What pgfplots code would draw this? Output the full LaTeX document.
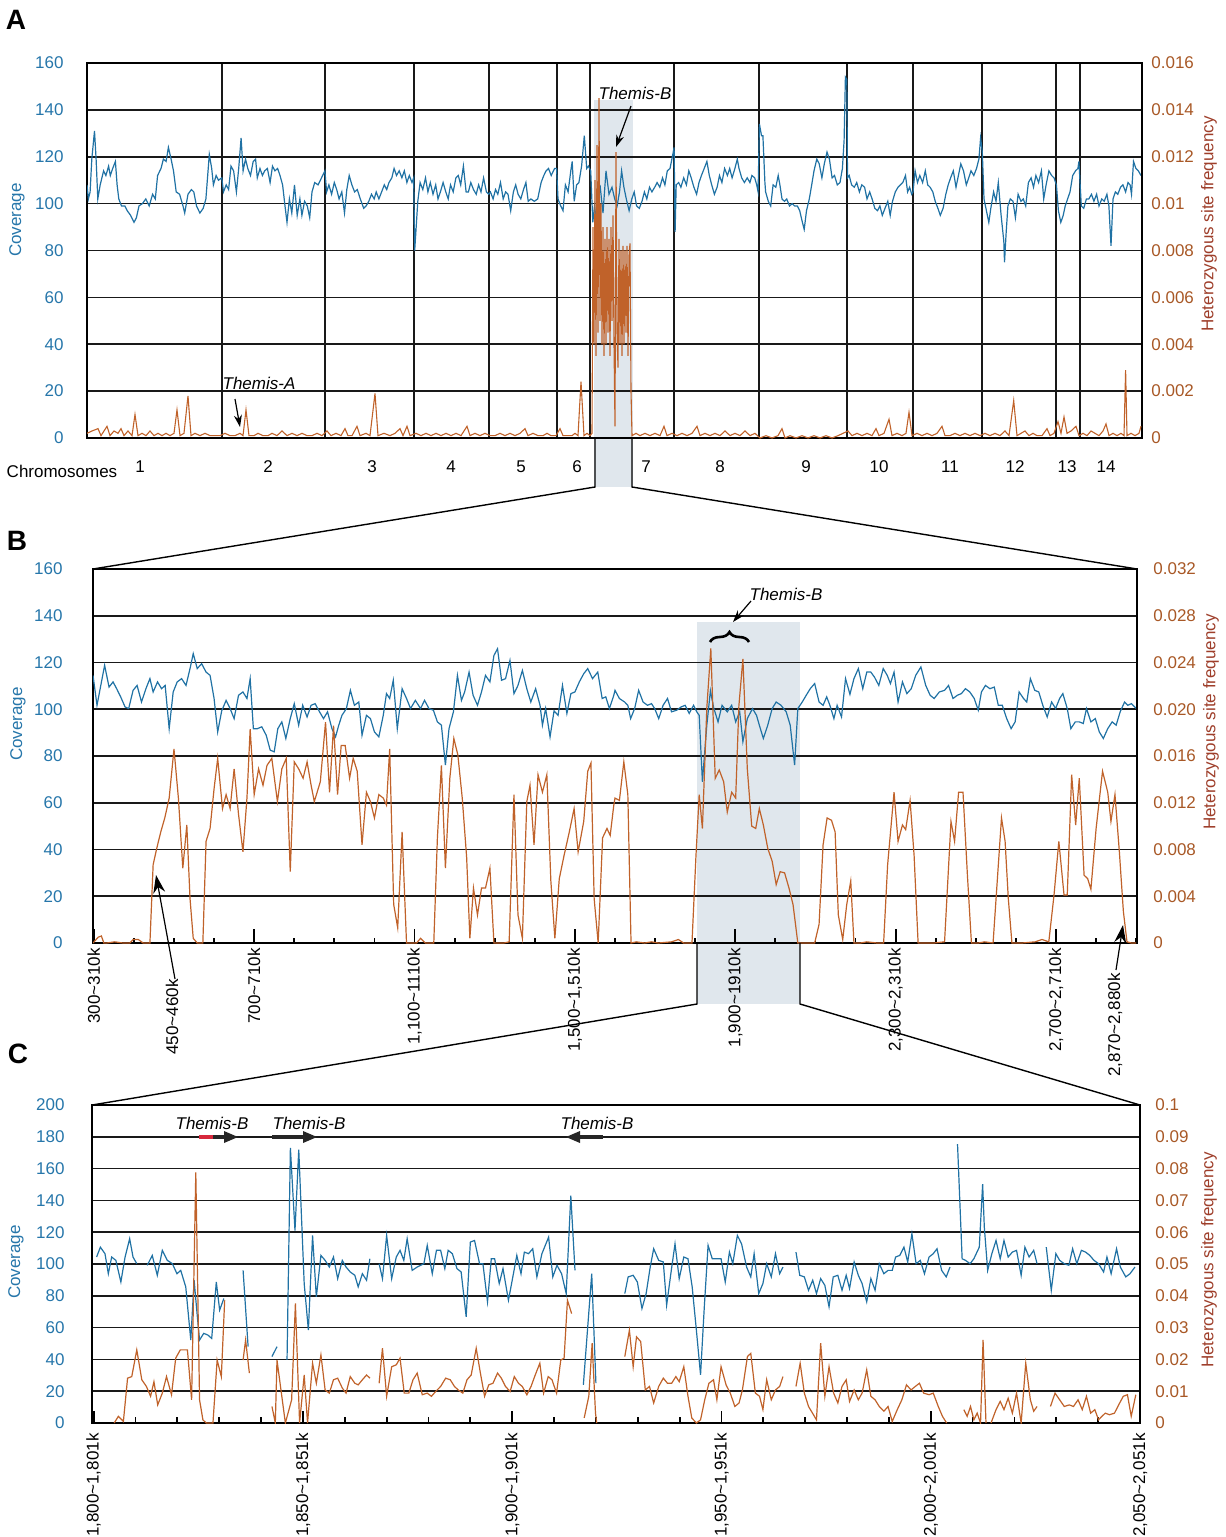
\documentclass[border=0pt]{standalone}
\usepackage{pgfplots}
\pgfplotsset{compat=1.18}
\usepackage{fontspec}
\setmainfont{Liberation Sans}
\usetikzlibrary{arrows.meta,decorations.pathreplacing}
\definecolor{covblue}{RGB}{32,114,164}
\definecolor{hetorg}{RGB}{192,98,42}
\definecolor{labblue}{RGB}{38,118,170}
\definecolor{labbrown}{RGB}{168,88,38}
\definecolor{labred}{RGB}{158,62,42}
\definecolor{hlshade}{RGB}{224,231,237}
\definecolor{genered}{RGB}{215,40,60}
\pgfplotsset{
  base/.style={scale only axis, anchor=north west,
    tick label style={font=\fontsize{8.5}{10}\selectfont},
    /pgf/number format/assume math mode=true,
    unbounded coords=jump, ymin=0},
  cov/.style={base, axis line style={black,line width=0.8pt},
    ymajorgrids, grid style={black!90,line width=0.8pt},
    ytick style={draw=none},
    yticklabel style={text=labblue, anchor=east, inner sep=0pt}},
  het/.style={base, hide x axis, axis y line*=right, axis line style={black,line width=0.8pt},
    ytick style={draw=none}, scaled y ticks=false,
    yticklabel style={text=labbrown, anchor=west, inner sep=0pt}},
}
\begin{document}
\begin{tikzpicture}
\useasboundingbox (0pt,0pt) rectangle (613pt,-768.5pt);
\begin{scope}[x=0.5pt,y=-0.5pt]
\fill[hlshade] (594,100) rectangle (633,487);
\fill[hlshade] (697,622) rectangle (800,1004);
\end{scope}
% ---------------- Panel A ----------------
\begin{axis}[cov, at={(43.5pt,-31.5pt)}, width=527.5pt, height=187.5pt,
  xmin=87, xmax=1142, ymax=160, ytick={0,20,...,160},
  xtick={222,325,414,489,557,590,674,759,847,913,982,1056,1080}, xticklabels={},
  xmajorgrids, xtick style={draw=none}, yticklabel style={xshift=-11.5pt}]
\addplot[covblue, line width=0.6pt] coordinates {
(87,108)(88.4,102)(90.1,105)(91.8,119)(94.5,131)(96.1,119)(97.8,102)(100.2,108)(103.6,114)(105.9,112)(108.6,116)(110.3,112)(112.7,115)(115.4,118)(117.1,108)(118.8,102)(121.5,99)(124.9,99)(127.2,97)(130.6,95)(134,92)(136.4,94)(139,99)(142.4,100)(145.8,102)(149.2,99)(152.6,104)(155.3,102)(157.6,112)(161,115)(163.4,119)(166.1,118)(168.4,124)(171.1,119)(173.5,114)(176.2,105)(179.6,104)(183,99)(184.7,96)(188,104)(191.4,106)(193.8,105)(196.5,99)(199.9,96)(203.2,98)(205.9,102)(209.3,121)(211.7,115)(213.4,108)(216.1,112)(218.5,110)(221.8,111)
(223.5,105)(226.2,108)(228.6,106)(231,116)(233.6,114)(236.4,105)(238.7,115)(241.1,128)(243.1,114)(245.5,119)(247.8,115)(250.5,112)(253.2,118)(255.6,119)(257.3,111)(260,115)(262.4,112)(264.7,114)(267.4,115)(270.1,109)(272.5,116)(274.9,114)(277.6,115)(280,112)(282.6,108)(285,99)(287,92)(289.4,102)(291.8,96)(294.5,108)(297.2,95)(299.9,102)(301.9,95)(304.6,101)(307.3,99)(309.7,94)(312,105)(314.7,109)(318.1,108)(321.5,111)(324.9,114)
(326.6,105)(328.9,108)(331.6,104)(334.3,109)(336.7,106)(339.1,102)(341.8,105)(344.5,96)(346.8,106)(349.2,112)(351.9,108)(354.6,105)(357.3,106)(360.3,102)(363.7,98)(366.1,99)(368.8,101)(371.5,104)(374.2,102)(376.2,105)(378.9,102)(381.6,105)(384.3,108)(386.7,106)(389,109)(391.8,111)(394.1,115)(396.5,112)(399.2,114)(401.9,111)(404.3,114)(406.9,109)(409.3,112)(412,109)(413.7,111)(414.7,80)
(417.8,101)(420.1,109)(422.8,106)(425.5,111)(427.9,105)(430.3,109)(433,104)(435.7,108)(438,102)(440.4,105)(443.1,109)(445.8,105)(448.2,102)(450.5,108)(453.2,105)(455.9,111)(458.3,112)(460.7,108)(463.4,116)(466.1,105)(468.4,105)(470.8,109)(473.5,106)(476.2,104)(478.6,108)(481,105)(483.6,111)(486.4,105)(488.7,104)
(490.4,105)(493.1,102)(495.5,106)(497.8,104)(500.5,109)(503.2,102)(505.6,105)(508,104)(510.7,97)(513.4,105)(515.7,108)(518.1,104)(520.8,102)(523.5,106)(525.9,109)(528.2,101)(530.9,102)(534.3,101)(537.7,102)(541.1,109)(543.8,112)(546.1,114)(548.5,115)(551.2,112)(554.6,115)(556.6,115)
(558,102)(560.7,99)(563,97)(565.4,108)(568.1,105)(570.8,114)(572.2,118)(574.2,101)(576.6,108)(578.9,109)(581.6,116)(584.3,129)(586.7,115)(588.4,116)(590.7,114)(592.8,92)
(594.5,99)(597,91)(600,108)(603,96)(606,114)(609,104)
(612,107)(614.7,102)(617.1,99)(619.5,105)(621.6,114)(623.9,107)(626.3,102)(629.1,97)(631.8,102)(634.2,105)(636.6,99)(639.3,98)(642,101)(644.4,105)(646.8,102)(649.5,107)(651.9,105)(654.7,107)(657.1,109)(659.8,107)(662.5,111)(664.9,108)(667.3,114)(670,115)(672.8,121)(674.1,124)(675.1,88)
(676.2,108)(678.6,109)(680.9,107)(683.7,111)(686.4,108)(688.8,114)(691.2,111)(693.9,107)(696.6,104)(699,109)(701.4,112)(704.2,115)(706.9,118)(709.3,112)(711.7,108)(714.4,104)(717.1,107)(719.5,112)(721.9,109)(724.6,115)(727.4,112)(729.7,115)(732.1,111)(734.9,115)(737.3,119)(739,115)(741.7,111)(744.4,109)(747.2,111)(749.9,109)(751.9,112)(754.7,111)(756.7,108)(758.1,105)(759.4,134)(761.5,129)(762.9,129)(764.9,109)
(765.6,105)(768.3,101)(770.7,99)(773.1,108)(775.8,107)(778.2,112)(779.9,108)(782,102)(784.4,101)(786.7,102)(789.5,99)(792.2,100)(794.6,99)(797.3,99)(799.7,97)(802.4,92)(804.2,89)(806.5,97)(809.3,102)(811.7,108)(814,114)(816.8,119)(819.2,117)(821.9,111)(824.3,117)(827,122)(829.4,119)(832.1,111)(834.5,112)(837.3,108)(840,109)(842.4,115)(844.1,127)(845.4,154)(846.8,153)(847.5,111)
(849.2,112)(851.6,108)(854.3,107)(856.7,109)(859.4,105)(861.8,108)(864.6,107)(867,102)(869.7,105)(872.1,102)(874.8,98)(877.5,97)(879.9,99)(882.3,95)(885,98)(887.8,101)(890.2,95)(892.5,101)(895.3,105)(898,107)(900.4,108)(902.8,109)(905.5,112)(907.6,105)(909.6,107)(911.7,104)
(913,105)(915.1,114)(917.5,109)(919.8,112)(922.6,109)(925.3,114)(927.7,108)(930.1,107)(932.8,105)(935.2,101)(937.9,98)(940.3,95)(943.1,98)(945.8,104)(948.2,108)(950.6,111)(953.3,114)(956,107)(958.4,112)(960.8,117)(963.5,114)(966.3,108)(968.7,111)(971,114)(973.8,112)(976.5,115)(978.9,119)(980.6,128)(982.3,122)
(984,102)(986.4,97)(988.8,92)(990.8,98)(993.6,105)(996,101)(998.3,109)(1001.1,95)(1003.8,84)(1004.5,75)(1006.2,88)(1007.9,99)(1010.3,102)(1013,101)(1015.4,94)(1018.1,104)(1020.9,101)(1023.3,102)(1025.7,99)(1028.4,109)(1031.1,111)(1033.5,107)(1035.9,112)(1038.6,109)(1041.4,114)(1043.7,102)(1046.1,108)(1048.9,114)(1051.6,112)(1054,111)
(1056.4,108)(1058.4,97)(1060.8,92)(1063.2,95)(1065.2,99)(1067.6,102)(1070,105)(1072.7,112)(1075.5,114)(1077.9,115)(1078.9,118)
(1081.3,99)(1083.7,98)(1086.4,102)(1088.8,102)(1091.5,104)(1093.9,101)(1096.6,104)(1099,99)(1101.8,102)(1104.2,101)(1106.9,104)(1108.9,99)(1111,82)(1113,102)(1115.4,105)(1117.8,104)(1120.5,107)(1122.9,108)(1125.6,105)(1128,109)(1130.1,108)(1131.5,104)(1133.5,118)(1135.9,115)(1138.3,114)(1141,112)
};
\end{axis}
\begin{axis}[het, at={(43.5pt,-31.5pt)}, width=527.5pt, height=187.5pt,
  xmin=87, xmax=1142, ymax=0.016,
  ytick={0,0.002,0.004,0.006,0.008,0.01,0.012,0.014,0.016},
  yticklabels={0,0.002,0.004,0.006,0.008,0.01,0.012,0.014,0.016},
  yticklabel style={xshift=4.5pt}]
\addplot[hetorg, line width=0.55pt] coordinates {
(87,0.0002)(92,0.0003)(98,0.0004)(101,0.0001)(107,0.0005)(110,0.0001)(114,0.0003)(118,0.0002)(121,0.0004)(124,0.0001)(128,0.0003)(132,0.0001)(135,0.0010)(138,0.0001)(142,0.0002)(146,0.0001)(150,0.0003)(154,0.0001)(158,0.0002)(162,0.0001)(166,0.0002)(170,0.0001)(174,0.0002)(177,0.0012)(180,0.0001)(184,0.0002)(188,0.0018)(191,0.0001)(195,0.0002)(200,0.0001)(205,0.0002)(210,0.0001)(215,0.0001)(220,0.0001)(225,0.0002)(230,0.0001)(235,0.0001)(240,0.0002)(243,0.0001)(246,0.0012)(249,0.0001)(254,0.0001)(258,0.0002)(263,0.0001)(268,0.0001)(272,0.0002)(277,0.0001)(282,0.0003)(287,0.0001)(292,0.0002)(297,0.0001)(302,0.0002)(307,0.0001)(312,0.0001)(317,0.0002)(322,0.0001)(327,0.0003)(331,0.0001)(336,0.0002)(341,0.0001)(345,0.0004)(348,0.0001)(352,0.0001)(357,0.0005)(360,0.0001)(366,0.0002)(370,0.0001)(375,0.0019)(378,0.0001)(384,0.0002)(390,0.0001)(395,0.0002)(400,0.0004)(403,0.0001)(407,0.0005)(410,0.0001)(416,0.0002)(421,0.0001)(426,0.0002)(431,0.0001)(436,0.0002)(441,0.0001)(446,0.0002)(451,0.0001)(456,0.0002)(461,0.0001)(467,0.0005)(470,0.0001)(475,0.0002)(480,0.0001)(485,0.0002)(490,0.0001)(495,0.0001)(500,0.0002)(505,0.0001)(510,0.0002)(515,0.0001)(520,0.0002)(525,0.0004)(528,0.0001)(533,0.0002)(538,0.0001)(543,0.0001)(547,0.0002)(551,0.0001)(556,0.0001)(560,0.0004)(563,0.0001)(568,0.0001)(572,0.0001)(575,0.0002)(578,0.0001)(581,0.0024)(584,0.0001)(587,0.0002)(590,0.0001)
(592,0.0002)(593,0.0090)(594,0.0040)(595,0.0110)(596,0.0035)(597,0.0125)(598,0.0045)(599,0.0145)(600,0.0050)(601,0.0100)(602,0.0040)(603,0.0090)(604,0.0035)(605,0.0085)(606,0.0040)(607,0.0090)(608,0.0045)(609,0.0085)(610,0.0035)(611,0.0090)(612,0.0050)(613,0.0095)(614,0.0040)(615,0.0005)(616,0.0122)(617,0.0045)(618,0.0030)(619,0.0085)(620,0.0040)(621,0.0080)(622,0.0035)(623,0.0082)(624,0.0040)(625,0.0080)(626,0.0045)(627,0.0082)(628,0.0035)(629,0.0078)(630,0.0083)(631,0.0020)(632,0.0001)
(636,0.0002)(640,0.0001)(645,0.0002)(650,0.0001)(655,0.0002)(660,0.0001)(664,0.0005)(667,0.0001)(672,0.0002)(677,0.0001)(682,0.0002)(687,0.0001)(692,0.0002)(697,0.0005)(700,0.0001)(705,0.0002)(710,0.0001)(715,0.0002)(720,0.0001)(725,0.0003)(730,0.0001)(735,0.0002)(740,0.0001)(745,0.0003)(750,0.0001)(755,0.0002)(760,0.0000)(766,0.0001)(772,0.0000)(778,0.0001)(782,0.0004)(785,0.0000)(790,0.0001)(796,0.0000)(802,0.0001)(808,0.0000)(814,0.0001)(820,0.0000)(826,0.0001)(832,0.0000)(838,0.0001)(843,0.0002)(848,0.0003)(852,0.0001)(857,0.0002)(862,0.0001)(867,0.0002)(872,0.0001)(876,0.0004)(879,0.0001)(884,0.0002)(889,0.0008)(892,0.0001)(897,0.0002)(902,0.0001)(906,0.0002)(909,0.0011)(912,0.0001)(917,0.0002)(922,0.0001)(927,0.0002)(932,0.0001)(937,0.0002)(942,0.0005)(945,0.0001)(950,0.0001)(955,0.0002)(960,0.0001)(965,0.0002)(970,0.0001)(975,0.0002)(980,0.0001)(985,0.0002)(990,0.0001)(995,0.0002)(1000,0.0001)(1005,0.0003)(1009,0.0001)(1013.7,0.0016)(1017,0.0001)(1021,0.0002)(1025,0.0003)(1029,0.0001)(1033,0.0002)(1037,0.0001)(1042,0.0001)(1047,0.0004)(1050,0.0001)(1054,0.0002)(1058,0.0007)(1061,0.0002)(1064,0.0009)(1067,0.0002)(1071,0.0003)(1076,0.0005)(1079,0.0001)(1083,0.0002)(1087,0.0001)(1091,0.0003)(1095,0.0002)(1099,0.0001)(1103,0.0003)(1106,0.0006)(1109,0.0001)(1113,0.0002)(1117,0.0001)(1121,0.0002)(1124,0.0001)(1125.6,0.0029)(1127,0.0001)(1131,0.0002)(1135,0.0001)(1139,0.0002)(1141,0.0005)
};
\end{axis}
% ---------------- Panel B ----------------
\begin{axis}[cov, at={(46.5pt,-284.5pt)}, width=522pt, height=187pt,
  xmin=298, xmax=2902, ymax=160, ytick={0,20,...,160},
  xtick={300,700,1100,1500,1900,2300,2700},
  xticklabels={300\textasciitilde 310k,700\textasciitilde 710k,{1,100\textasciitilde 1110k},{1,500\textasciitilde 1,510k},{1,900\textasciitilde 1910k},{2,300\textasciitilde 2,310k},{2,700\textasciitilde 2,710k}},
  minor xtick={400,500,...,2900}, xtick pos=left, tick align=inside,
  major tick length=7pt, minor tick length=2.5pt, xtick style={black,line width=0.9pt},
  xticklabel style={rotate=90, anchor=east, inner sep=2.5pt},
  yticklabel style={xshift=-15pt}]
\addplot[covblue, line width=0.6pt] coordinates {
(298,114.5)(308,101.7)(327,118.8)(338,109.5)(348,111.7)(357,108.8)(367,105.3)(378,101)(387,100.3)(398,108.1)(408,110.2)(419,103.1)(430,108.8)(440,113.1)(448,107.4)(459,111.7)(469,108.8)(478,110.2)(488,91.7)(498,107.4)(508,111.7)(519,113.1)(530,110.2)(540,117.4)(548,123.8)(558,117.4)(569,119.5)(580,115.9)(590,114.5)(600,104.6)(609,90.3)(619,99.3)(630,103.8)(640,100.3)(650,96)(661,106)(672,107.4)(682,104.6)(690,113.1)(698,91.7)(708,91.7)(719,92.5)(730,88.9)(740,82.5)(750,81.8)(759,91.7)(769,94.6)(779,87.5)(790,96)(800,102.4)(811,93.2)(821,101.7)(832,96.7)(842,101.7)(852,102.4)(863,98.9)(873,96)(883,98.9)(894,91.7)(903,88.2)(911,93.2)(919,97.4)(930,100.3)(940,108.1)(950,101.7)(961,103.1)(969,88.9)(980,97.4)(990,96)(1000,90.3)(1011,88.2)(1022,97.4)(1030,106.7)(1038,104.6)(1047,112.4)(1057,91.7)(1069,108.8)(1080,104.6)(1090,100.3)(1102,103.8)(1115,100.3)(1125,103.8)(1136,100.3)(1147,99.6)(1157,94.6)(1167,93.2)(1177,76.1)(1186,91.7)(1197,98.9)(1207,114.5)(1217,103.8)(1225,107.4)(1236,115.9)(1246,106)(1257,101.7)(1267,107.4)(1277,114.5)(1288,111.7)(1298,123)(1307,125.9)(1317,112.4)(1327,113.1)(1338,120.9)(1348,106.7)(1358,110.2)(1369,116.6)(1380,108.8)(1390,103.1)(1402,108.8)(1413,101.7)(1419,93.2)(1427,100.3)(1438,88.2)(1448,99.3)(1458,97.4)(1469,110.2)(1480,98.2)(1490,106.7)(1500,107.4)(1511,111.7)(1522,115.2)(1532,117.4)(1544,113.1)(1557,115.9)(1568,104.6)(1577,105.3)(1586,100.3)(1597,106)
(1600,108.1)(1611,104.6)(1624,103.1)(1632,101.7)(1639,96)(1649,100.3)(1659,108.1)(1670,103.1)(1681,101.7)(1691,102.4)(1699,100.3)(1709,96)(1720,101.7)(1731,104.6)(1741,98.9)(1754,99.6)(1765,101)(1775,101.7)(1785,98.2)(1796,101.7)(1804,98.9)(1810,97.4)(1818,69)(1829,93.2)(1838,107.9)(1846,100.7)(1857,94.6)(1867,101.7)(1880,98.9)(1891,101.7)(1901,94.6)(1911,98.9)(1919,86.1)(1930,96)(1943,100.3)(1953,97.4)(1960,93.2)(1970,87.5)(1981,93.2)(1992,100.3)(2002,103.1)(2014,101.7)(2027,98.9)(2037,93.2)(2048,76.1)(2056,100.3)(2067,103.1)(2077,106)(2087,108.8)(2098,111)(2109,103.1)(2119,101.7)(2128,105.3)(2136,101.7)(2146,96)(2154,101.7)(2165,96.7)(2175,113.1)(2186,106.4)(2196,113.1)(2207,117.4)(2218,108.8)(2228,115.9)(2238,115.9)(2247,113.8)(2258,110.2)(2269,117.4)(2279,114.5)(2287,111)(2296,115.9)(2306,103.1)(2317,111.7)(2328,106.7)(2339,108.8)(2350,114.5)(2363,118.1)(2375,110.2)(2386,106)(2396,104.6)(2409,107.4)(2422,108.1)(2432,110.2)(2443,104.6)(2454,106)(2464,106.7)(2474,108.8)(2485,107.4)(2496,104.6)(2506,99.6)(2514,107.4)(2524,110.2)(2535,108.8)(2546,109.5)(2556,101.7)(2566,101.7)(2577,96)(2588,91.7)(2598,94.6)(2608,107.4)(2619,104.6)(2627,103.1)(2636,113.1)(2647,108.1)(2657,107.4)(2667,101.7)(2678,96.7)(2689,103.1)(2699,100.3)(2709,104.6)(2717,106.7)(2728,100.3)(2737,91.7)(2748,94.6)(2758,94.6)(2768,93.9)(2776,100.3)(2787,94.6)(2798,96)(2808,90.3)(2818,87.5)(2829,91.7)(2840,94.6)(2850,93.2)(2860,98.9)(2871,103.1)(2879,101.7)(2888,102.4)(2900,100.3)
};
\end{axis}
\begin{axis}[het, at={(46.5pt,-284.5pt)}, width=522pt, height=187pt,
  xmin=298, xmax=2902, ymax=0.032,
  ytick={0,0.004,0.008,0.012,0.016,0.02,0.024,0.028,0.032},
  yticklabels={0,0.004,0.008,0.012,0.016,0.020,0.024,0.028,0.032},
  yticklabel style={xshift=8pt}]
\addplot[hetorg, line width=0.6pt] coordinates {
(298,0)(311,0.0005)(319,0.0006)(325,0)(332,0)(352,0.0001)(373,0)(390,0)(398,0.0003)(411,0.0003)(423,0)(440,0)(448,0.0067)(457,0.0081)(467,0.0095)(477,0.0107)(488,0.0124)(500,0.0166)(511,0.0124)(522,0.0064)(532,0.0101)(540,0.0038)(548,0.0004)(558,0)(572,0)(580,0.0087)(590,0.0098)(600,0.0132)(609,0.0158)(621,0.0115)(630,0.0127)(640,0.0115)(650,0.0149)(661,0.0110)(672,0.0078)(682,0.0124)(690,0.0183)(700,0.0127)(711,0.0149)(722,0.0135)(732,0.0152)(744,0.0158)(758,0.0121)(769,0.0149)(780,0.0158)(790,0.0061)(800,0.0155)(811,0.0149)(822,0.0141)(832,0.0155)(842,0.0135)(850,0.0121)(865,0.0138)(878,0.0189)(888,0.0129)(898,0.0186)(908,0.0127)(917,0.0169)(927,0.0169)(938,0.0141)(947,0.0158)(957,0.0147)(969,0.0084)(980,0.0129)(990,0.0121)(1000,0.0107)(1011,0.0127)(1022,0.0124)(1030,0.0118)(1038,0.0166)(1048,0.0033)(1058,0.0013)(1069,0.0095)(1080,0)(1090,0)(1105,0)(1115,0.0004)(1127,0)(1148,0)(1157,0.0090)(1167,0.0152)(1177,0.0064)(1188,0.0141)(1198,0.0175)(1208,0.0161)(1219,0.0124)(1230,0.0073)(1238,0.0004)(1247,0.0047)(1257,0.0024)(1267,0.0047)(1277,0.0047)(1288,0.0064)(1298,0)(1311,0)(1323,0)(1336,0.0001)(1348,0.0127)(1358,0.0024)(1369,0.0004)(1380,0.0121)(1388,0.0135)(1398,0.0084)(1408,0.0144)(1419,0.0129)(1430,0.0144)(1440,0.0053)(1450,0.0004)(1461,0.0055)(1473,0.0075)(1486,0.0095)(1498,0.0115)(1508,0.0078)(1522,0.0104)(1532,0.0147)(1540,0.0154)(1548,0.0038)(1558,0)(1569,0.0090)(1580,0.0098)(1588,0.0092)(1597,0.0118)
(1600,0.0124)(1611,0.0122)(1622,0.0155)(1632,0.0127)(1640,0)(1653,0.0001)(1674,0)(1691,0.0001)(1708,0)(1741,0.0001)(1758,0.0003)(1771,0)(1792,0)(1802,0.0075)(1810,0.0127)(1818,0.0098)(1829,0.0201)(1839,0.0252)(1850,0.0141)(1860,0.0148)(1871,0.0138)(1880,0.0112)(1891,0.0129)(1901,0.0124)(1909,0.0203)(1919,0.0243)(1930,0.0149)(1941,0.0100)(1951,0.0098)(1960,0.0115)(1970,0.0101)(1981,0.0081)(1992,0.0070)(2002,0.0050)(2012,0.0061)(2023,0.0060)(2034,0.0047)(2044,0.0033)(2056,0)(2077,0)(2098,0)(2109,0.0016)(2119,0.0084)(2129,0.0107)(2140,0.0105)(2149,0.0095)(2157,0.0024)(2168,0.0003)(2178,0.0033)(2188,0.0053)(2196,0)(2212,0)(2228,0.0001)(2254,0)(2270,0)(2280,0.0067)(2296,0.0129)(2306,0.0087)(2317,0.0101)(2325,0.0097)(2336,0.0122)(2346,0.0075)(2356,0)(2375,0)(2396,0)(2422,0.0001)(2438,0.0104)(2447,0.0087)(2457,0.0129)(2468,0.0129)(2479,0.0058)(2489,0)(2506,0)(2522,0.0001)(2543,0)(2564,0.0107)(2573,0.0087)(2581,0.0038)(2590,0)(2615,0)(2648,0.0001)(2665,0.0003)(2682,0.0001)(2695,0.0041)(2707,0.0087)(2720,0.0041)(2728,0.0041)(2739,0.0144)(2749,0.0101)(2758,0.0141)(2770,0.0058)(2779,0.0055)(2787,0.0046)(2800,0.0098)(2816,0.0147)(2829,0.0129)(2837,0.0104)(2847,0.0127)(2858,0.0078)(2868,0.0027)(2877,0.0001)(2888,0)(2900,0)
};
\end{axis}
% ---------------- Panel C ----------------
\begin{axis}[cov, at={(46pt,-552.5pt)}, width=524pt, height=159pt,
  xmin=1799.6, xmax=2050, ymax=200, ytick={0,20,...,200},
  xtick={1800,1850,1900,1950,2000,2050},
  xticklabels={{1,800\textasciitilde 1,801k},{1,850\textasciitilde 1,851k},{1,900\textasciitilde 1,901k},{1,950\textasciitilde 1,951k},{2,000\textasciitilde 2,001k},{2,050\textasciitilde 2,051k}},
  minor xtick={1810,1820,...,2040}, xtick pos=left, tick align=inside,
  major tick length=6pt, minor tick length=3pt, xtick style={black,line width=0.9pt},
  xticklabel style={rotate=90, anchor=east, inner sep=5pt},
  yticklabel style={xshift=-13.5pt}]
\addplot[covblue, line width=0.6pt] coordinates {
(1800.7,104.4)(1801.6,110.6)(1802.7,106.5)(1803.5,93.9)(1804.3,104.4)(1805.3,102.3)(1806.5,88.7)(1807.5,104.4)(1808.6,115.9)(1809.4,104.4)(1810.3,100.2)(1811.5,nan)(1812.8,99.2)(1814,105.4)(1815.2,92.9)(1816.4,108.6)(1817.6,102.3)(1818.8,100.2)(1819.9,93.9)(1820.8,96)(1822,85.6)(1823.2,52.2)(1824,89.8)(1824.7,68.9)(1825.3,52.2)(1826.3,56.4)(1827.3,55.3)(1828.2,53.2)(1829.3,88.7)(1830.1,71)(1831.1,78.3)(1833,nan)(1835.7,96)(1836.9,48)(1839,nan)(1842.6,41.8)(1843.8,48)(1845,nan)(1846.2,39.7)(1847,173)(1848.1,121)(1849,172)(1850.3,87.7)(1851.3,58.5)(1852.3,118)(1853.2,79.3)(1854.3,105.4)(1855.3,102.3)(1856.3,98.1)(1857.3,104.4)(1858.3,90.8)(1859.4,102.3)(1860.3,98.1)(1861.3,95)(1862.4,92.9)(1863.2,85.6)(1864.2,93.9)(1865.2,89.8)(1866,103.3)(1867,nan)(1868.2,100.2)(1869,90.8)(1870,118)(1871.2,90.8)(1872.3,104.4)(1873.2,108.6)(1874.1,102.3)(1874.9,115.9)(1876.1,96)(1877.3,98.1)(1878.9,100.2)(1879.7,111.7)(1880.9,93.9)(1881.9,108.6)(1882.9,108.6)(1883.9,97.1)(1884.7,108.6)(1885.7,106.5)(1886.8,97.1)(1887.8,95)(1889,66.8)(1890,113.8)(1891,114.8)(1892.2,100.2)(1893,100.2)(1894.1,76.2)(1895,103.3)(1895.8,103.3)(1896.9,87.7)(1897.8,97.1)(1899.1,77.2)(1900,89.8)(1901.1,105.4)(1902.1,93.9)(1902.9,107.5)(1903.9,106.5)(1904.9,109.6)(1905.9,91.9)(1907.1,106.5)(1908.7,116.9)(1909.7,91.9)(1910.7,99.2)(1911.8,93.9)(1912.9,81.4)(1914,143)(1915,96)(1916,nan)(1917,24)(1919,93.9)(1920,25.1)(1923,nan)
(1926.9,81.4)(1927.7,91.9)(1928.9,92.9)(1929.9,88.7)(1931,72)(1932,81.4)(1933,98.5)(1933.8,109.6)(1935,102.3)(1936.1,101.3)(1936.9,74.1)(1937.9,93.9)(1938.9,112.7)(1939.9,90.8)(1941,104.4)(1942,103.3)(1943,85.6)(1944,58.5)(1945,30.3)(1945.9,73.1)(1946.8,111.7)(1947.8,103.3)(1948.9,103.3)(1949.9,103.3)(1950.9,88.7)(1951.9,107.5)(1952.7,100.2)(1953.8,118)(1954.8,112.7)(1956,98.1)(1957,91.9)(1957.8,106.5)(1958.9,81.4)(1959.9,87.7)(1960.8,100.2)(1961.9,91.9)(1962.9,106.5)(1963.9,93.9)(1964.7,98.1)(1966,nan)(1967.8,107.5)(1968.7,92.9)(1969.8,91.9)(1970.8,83.5)(1971.8,89.8)(1972.7,81.4)(1973.7,90.8)(1974.7,86.6)(1975.7,73.1)(1976.7,91.9)(1977.8,92.9)(1978.8,83.5)(1979.8,92.9)(1980.6,84.6)(1981.7,101.3)(1982.7,92.9)(1983.6,87.7)(1984.7,76.2)(1985.7,90.8)(1986.7,83.5)(1987.7,100.2)(1988.8,93.9)(1989.8,96)(1990.8,96)(1991.6,104.4)(1992.6,105.4)(1993.6,110.6)(1994.5,101.3)(1995.5,119)(1996.5,100.2)(1997.5,102.3)(1998.5,93.9)(1999.6,104.4)(2000.6,106.5)(2001.5,109.6)(2002.6,96)(2003.7,91.9)(2004.6,98.1)(2005.5,nan)(2006.4,175.4)(2007.5,103.3)(2008.3,102.3)(2009.4,100.2)(2010.3,103.3)(2011.6,110.6)(2012.4,150.3)(2012.8,123.2)(2013.6,96)(2014.6,106.5)(2015.6,114.8)(2016.6,103.3)(2017.5,114.8)(2018.5,104.4)(2019.5,107.5)(2020.5,108.6)(2021.6,92.9)(2022.5,110.6)(2023.5,104.4)(2024.6,108.6)(2025.4,100.2)(2026.5,nan)(2027.6,110.6)(2028.8,83.5)(2029.9,106.5)(2030.8,102.3)(2031.9,100.2)(2033,99.2)(2033.9,109.6)(2034.9,100.2)(2036,108.6)(2037,107.5)(2038,105.4)(2039,102.3)(2040.1,100.2)(2041.3,95)(2042.1,104.4)(2043.1,93.9)(2044.4,109.6)(2045.3,98.1)(2046.6,91.9)(2047.6,93.9)(2048.8,98.1)
};
\end{axis}
\begin{axis}[het, at={(46pt,-552.5pt)}, width=524pt, height=159pt,
  xmin=1799.6, xmax=2050, ymax=0.1,
  ytick={0,0.01,0.02,0.03,0.04,0.05,0.06,0.07,0.08,0.09,0.1},
  yticklabels={0,0.01,0.02,0.03,0.04,0.05,0.06,0.07,0.08,0.09,0.1},
  yticklabel style={xshift=7.5pt}]
\addplot[hetorg, line width=0.6pt] coordinates {
(1804.9,0)(1805.9,0.0021)(1807.1,0.0005)(1808.1,0.0141)(1809.1,0.0146)(1810.3,0.0230)(1811.5,0.0136)(1812.6,0.0115)(1813.6,0.0084)(1814.4,0.0130)(1815.3,0.0057)(1816.4,0.0094)(1817.4,0.0146)(1818.6,0.0089)(1819.6,0.0204)(1820.7,0.0230)(1821.6,0.0230)(1822.4,0.0230)(1823.4,0.0073)(1824.4,0.0788)(1825.3,0.0073)(1826.1,0.0010)(1826.9,0)(1828.5,0)(1829.5,0.0198)(1830.5,0.0146)(1831.3,0.0386)(1833,nan)(1835.7,0.0198)(1836.3,0.0261)(1837.2,0.0157)(1839,nan)(1842.6,0.0052)(1843.4,0)(1843.8,0.0198)(1845.8,0)(1847.3,0.0073)(1848.2,0.0376)(1849.2,0)(1850.3,0.0151)(1851.1,0)(1852.3,0.0188)(1853.2,0.0125)(1854.3,0.0214)(1855.3,0.0104)(1856.3,0.0094)(1857.3,0.0136)(1858.3,0.0141)(1859.4,0.0110)(1860.3,0.0094)(1861.3,0.0146)(1862.4,0.0125)(1863.2,0.0120)(1864.2,0.0136)(1865.2,0.0151)(1866,0.0141)(1867,nan)(1868.2,0.0125)(1869,0.0235)(1870,0.0084)(1871.2,0.0177)(1872.3,0.0183)(1873.2,0.0204)(1874.2,0.0094)(1875.3,0.0094)(1876.3,0.0136)(1877.3,0.0157)(1878.5,0.0089)(1879.7,0.0094)(1880.7,0.0084)(1881.7,0.0099)(1882.9,0.0115)(1884.1,0.0141)(1885.2,0.0136)(1886.2,0.0115)(1887.1,0.0104)(1888.2,0.0094)(1889.2,0.0136)(1890.2,0.0151)(1891.4,0.0235)(1892.4,0.0157)(1893.4,0.0084)(1894.4,0.0120)(1895.4,0.0125)(1896.5,0.0157)(1897.4,0.0141)(1898.4,0.0115)(1899.5,0.0099)(1900.5,0.0146)(1901.5,0.0125)(1902.4,0.0115)(1903.5,0.0089)(1904.5,0.0115)(1905.5,0.0151)(1906.6,0.0188)(1907.5,0.0094)(1908.6,0.0146)(1909.5,0.0136)(1910.6,0.0094)(1911.6,0.0198)(1912.4,0.0204)(1913.2,0.0386)(1914.2,0.0344)(1916,nan)(1917.2,0.0016)(1918.3,0.0084)(1919.1,0.0251)(1919.9,0.0031)(1920.2,0)(1923,nan)
(1926.9,0.0209)(1928,0.0292)(1928.9,0.0177)(1929.7,0.0271)(1930.7,0.0256)(1931.8,0.0104)(1932.8,0.0115)(1933.8,0.0063)(1935,0.0115)(1936.1,0.0141)(1937.1,0.0125)(1938.1,0.0125)(1939.1,0.0146)(1939.9,0.0130)(1941,0.0177)(1942,0.0084)(1942.9,0.0016)(1944,0)(1945,0.0010)(1946,0.0073)(1947,0.0125)(1948.1,0.0136)(1948.9,0.0073)(1949.9,0.0177)(1951.1,0.0120)(1952.1,0.0094)(1953.2,0.0052)(1954.2,0.0063)(1955,0.0104)(1956.2,0.0209)(1957,0.0219)(1958.1,0.0094)(1959.1,0.0084)(1959.9,0.0042)(1960.8,0.0136)(1961.9,0.0073)(1962.9,0.0104)(1963.9,0.0115)(1964.7,0.0146)(1966,nan)(1967.8,0.0115)(1968.8,0.0188)(1969.8,0.0094)(1970.8,0.0052)(1972.7,0.0010)(1973.7,0.0251)(1974.7,0.0084)(1975.7,0.0177)(1976.8,0.0094)(1977.8,0.0063)(1978.8,0.0115)(1979.8,0.0136)(1980.6,0.0068)(1981.7,0.0104)(1982.7,0.0073)(1983.6,0.0094)(1984.7,0.0167)(1985.7,0.0084)(1986.7,0.0073)(1987.7,0.0052)(1988.8,0.0037)(1989.8,0.0052)(1990.8,0.0005)(1992,0.0042)(1993.1,0.0073)(1994.2,0.0120)(1995.3,0.0104)(1996.3,0.0115)(1997.3,0.0125)(1998.3,0.0094)(1999.6,0.0089)(2000.6,0.0094)(2001.8,0.0052)(2002.8,0.0021)(2003.8,0)(2005.5,nan)(2007.9,0.0042)(2008.7,0.0021)(2009.5,0.0052)(2010.3,0.0010)(2011.1,0.0031)(2011.9,0)(2012.5,0.0261)(2013.2,0)(2013.8,nan)(2014.4,0)(2015.6,0.0042)(2016.6,0.0068)(2017.5,0.0042)(2018.5,0.0078)(2019.5,0.0031)(2020.5,0.0094)(2021.6,0)(2022.7,0.0188)(2023.8,0.0073)(2024.6,0.0037)(2025.4,0.0052)(2026.5,nan)(2028.6,0.0052)(2029.7,0.0094)(2030.8,0.0073)(2031.9,0.0052)(2033.1,0.0057)(2034.1,0.0052)(2035.2,0.0073)(2036.2,0.0042)(2037.2,0.0084)(2038.2,0.0031)(2039.2,0.0042)(2040.1,0.0010)(2040.9,0.0021)(2041.7,0.0031)(2042.7,0.0026)(2043.9,0.0031)(2044.9,0.0057)(2046,0.0084)(2047,0.0089)(2047.9,0.0021)(2049,0.0089)
};
\end{axis}
% ---------------- Annotations ----------------
\begin{scope}[x=0.5pt,y=-0.5pt, every node/.style={font=\fontsize{8.5}{10}\selectfont}]
\node[font=\fontsize{14}{16}\selectfont\bfseries] at (16,20) {A};
\node[font=\fontsize{14}{16}\selectfont\bfseries] at (17,541) {B};
\node[font=\fontsize{14}{16}\selectfont\bfseries] at (18,1054) {C};
\node[rotate=90,text=labblue] at (17,220) {Coverage};
\node[rotate=90,text=labblue] at (18,724) {Coverage};
\node[rotate=90,text=labblue] at (16,1262) {Coverage};
\node[rotate=90,text=labred] at (1209,224) {Heterozygous site frequency};
\node[rotate=90,text=labred] at (1211,722) {Heterozygous site frequency};
\node[rotate=90,text=labred] at (1209,1260) {Heterozygous site frequency};
\node at (62,471) {Chromosomes};
\foreach \n/\xx in {1/140,2/268,3/372,4/451,5/521,6/577,7/646,8/720,9/806,10/879,11/950,12/1015,13/1067,14/1106}
  \node at (\xx,467) {\n};
% A annotations
\node[font=\fontsize{8.5}{10}\selectfont\itshape] at (259,383) {Themis-A};
\draw[line width=0.6pt,-{Stealth[length=6pt,width=4pt]}] (235,399) -- (240,427);
\node[font=\fontsize{8.5}{10}\selectfont\itshape] at (635,93) {Themis-B};
\draw[line width=0.6pt,-{Stealth[length=6pt,width=4pt]}] (631,106) -- (616,147);
% connectors
\draw[line width=0.7pt] (595,438) -- (595,487) -- (93,569);
\draw[line width=0.7pt] (632,438) -- (632,487) -- (1137,569);
\draw[line width=0.7pt] (697,943) -- (697,1004) -- (92,1105);
\draw[line width=0.7pt] (800,943) -- (800,1004) -- (1140,1105);
% B annotations
\node[font=\fontsize{8.5}{10}\selectfont\itshape] at (786,594) {Themis-B};
\draw[line width=0.6pt,-{Stealth[length=6pt,width=4pt]}] (751,601) -- (733,622);
\draw[line width=1.3pt, decorate, decoration={brace, amplitude=5pt}] (710,642) -- (749,642);
\draw[line width=0.6pt,-{Stealth[length=9pt,width=6pt]}] (175,979) -- (156,875);
\node[rotate=90, anchor=east, inner sep=0pt] at (172,979) {450\textasciitilde 460k};
\draw[line width=0.6pt,-{Stealth[length=9pt,width=6pt]}] (1116,970) -- (1123,925);
\node[rotate=90, anchor=east, inner sep=0pt] at (1115,973) {2,870\textasciitilde 2,880k};
% C gene models
\draw[line width=2.2pt, genered] (199,1137) -- (213,1137);
\draw[line width=2.2pt, black!85] (213,1137) -- (226,1137);
\fill[black!85] (238,1137) -- (224,1131) -- (224,1143) -- cycle;
\node[font=\fontsize{8.5}{10}\selectfont\itshape] at (212,1123) {Themis-B};
\draw[line width=2.2pt, black!85] (272,1137) -- (305,1137);
\fill[black!85] (317,1137) -- (303,1131) -- (303,1143) -- cycle;
\node[font=\fontsize{8.5}{10}\selectfont\itshape] at (309,1123) {Themis-B};
\draw[line width=2.2pt, black!85] (578,1137) -- (603,1137);
\fill[black!85] (566,1137) -- (580,1131) -- (580,1143) -- cycle;
\node[font=\fontsize{8.5}{10}\selectfont\itshape] at (597,1123) {Themis-B};
\end{scope}
\end{tikzpicture}
\end{document}
